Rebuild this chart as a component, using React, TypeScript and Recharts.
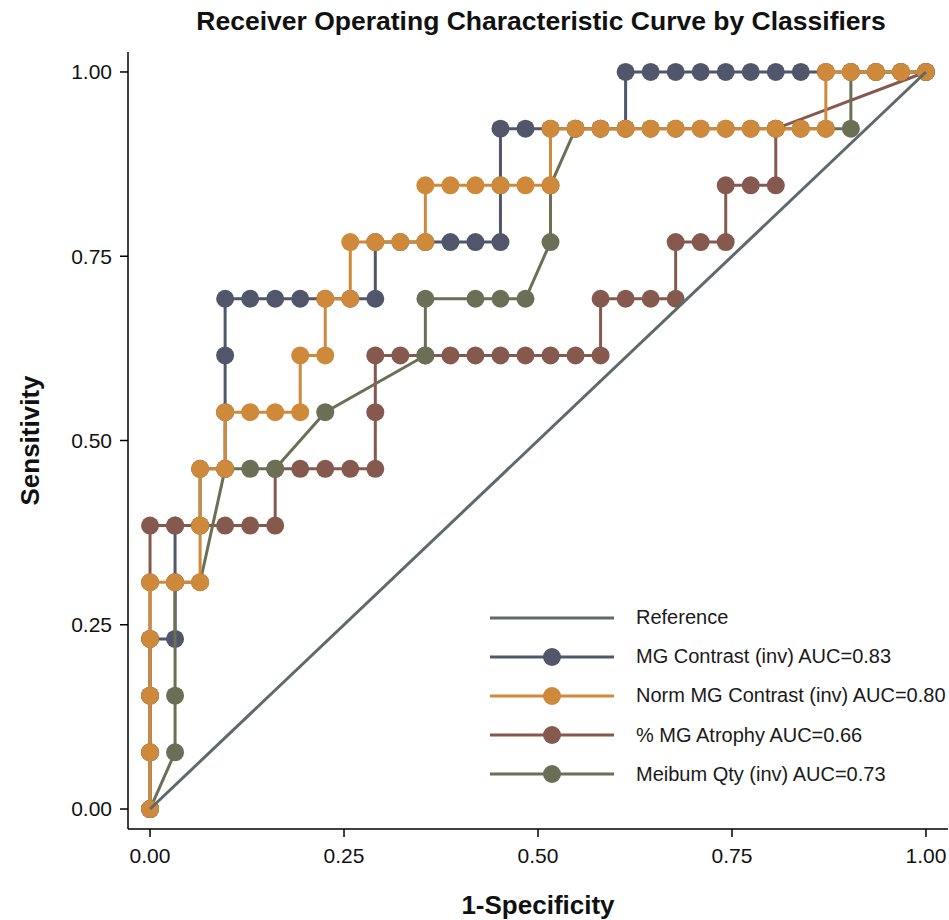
import React from "react";
import { ScatterChart, Scatter, XAxis, YAxis, Legend, Label } from "recharts";

// counts behind the empirical ROC steps
const NEG = 31;
const POS = 13;

const xTicks = [0, 0.25, 0.5, 0.75, 1];
const yTicks = [0, 0.25, 0.5, 0.75, 1];

// [false positives, true positives] at each cutoff
const mgContrast: [number, number][] = [
  [0, 0], [0, 1], [0, 2], [0, 3], [1, 3], [1, 4], [1, 5], [2, 5], [2, 6], [3, 6],
  [3, 7], [3, 8], [3, 9], [4, 9], [5, 9], [6, 9], [7, 9], [8, 9], [9, 9], [9, 10],
  [10, 10], [11, 10], [12, 10], [13, 10], [14, 10], [14, 11], [14, 12], [15, 12],
  [16, 12], [17, 12], [18, 12], [19, 12], [19, 13], [20, 13], [21, 13], [22, 13],
  [23, 13], [24, 13], [25, 13], [26, 13], [27, 13], [28, 13], [29, 13], [30, 13], [31, 13],
];

const normMgContrast: [number, number][] = [
  [0, 0], [0, 1], [0, 2], [0, 3], [0, 4], [1, 4], [2, 4], [2, 5], [2, 6], [3, 6],
  [3, 7], [4, 7], [5, 7], [6, 7], [6, 8], [7, 8], [7, 9], [8, 9], [8, 10], [9, 10],
  [10, 10], [11, 10], [11, 11], [12, 11], [13, 11], [14, 11], [15, 11], [16, 11],
  [16, 12], [17, 12], [18, 12], [19, 12], [20, 12], [21, 12], [22, 12], [23, 12],
  [24, 12], [25, 12], [26, 12], [27, 12], [27, 13], [28, 13], [29, 13], [30, 13], [31, 13],
];

const mgAtrophy: [number, number][] = [
  [0, 0], [0, 1], [0, 2], [0, 3], [0, 4], [0, 5], [1, 5], [2, 5], [3, 5], [4, 5],
  [5, 5], [5, 6], [6, 6], [7, 6], [8, 6], [9, 6], [9, 7], [9, 8], [10, 8], [11, 8],
  [12, 8], [13, 8], [14, 8], [15, 8], [16, 8], [17, 8], [18, 8], [18, 9], [19, 9],
  [20, 9], [21, 9], [21, 10], [22, 10], [23, 10], [23, 11], [24, 11], [25, 11],
  [25, 12], [31, 13],
];

const meibumQty: [number, number][] = [
  [0, 0], [1, 1], [1, 2], [1, 4], [2, 4], [3, 6], [4, 6], [5, 6], [7, 7], [11, 8],
  [11, 9], [13, 9], [14, 9], [15, 9], [16, 10], [16, 11], [17, 12], [18, 12], [19, 12],
  [20, 12], [21, 12], [22, 12], [23, 12], [24, 12], [25, 12], [26, 12], [27, 12],
  [28, 12], [28, 13], [29, 13], [30, 13], [31, 13],
];

const reference: [number, number][] = [[0, 0], [NEG, POS]];

const FONT = "'Liberation Sans', Arial, Helvetica, sans-serif";

const toRates = (pts: [number, number][]) =>
  pts.map(([fp, tp]) => ({ x: fp / NEG, y: tp / POS }));

const REF = { name: "Reference", color: "#5d6a6a" };
const MG = { name: "MG Contrast (inv) AUC=0.83", color: "#51566a", data: toRates(mgContrast) };
const NORM = { name: "Norm MG Contrast (inv) AUC=0.80", color: "#cf893b", data: toRates(normMgContrast) };
const ATR = { name: "% MG Atrophy AUC=0.66", color: "#86594f", data: toRates(mgAtrophy) };
const MEI = { name: "Meibum Qty (inv) AUC=0.73", color: "#6b6f55", data: toRates(meibumQty) };

// drawing order (last is on top)
const drawOrder = [MG, ATR, MEI, NORM];
const legendItems = [
  { ...REF, dot: false },
  { ...MG, dot: true },
  { ...NORM, dot: true },
  { ...ATR, dot: true },
  { ...MEI, dot: true },
];

const dot = (color: string) => (props: any) => (
  <circle cx={props.cx} cy={props.cy} r={9} fill={color} />
);

const renderLegend = () => (
  <div style={{ fontFamily: FONT, fontSize: 20, color: "#1a1a1a" }}>
    {legendItems.map((item) => (
      <div key={item.name} style={{ display: "flex", alignItems: "center", height: 39.2 }}>
        <svg width={124} height={20} style={{ flex: "none" }}>
          <line x1={0} y1={10} x2={124} y2={10} stroke={item.color} strokeWidth={3} />
          {item.dot && <circle cx={62} cy={10} r={9} fill={item.color} />}
        </svg>
        <span style={{ marginLeft: 22, whiteSpace: "nowrap" }}>{item.name}</span>
      </div>
    ))}
  </div>
);

const fmt = (v: number) => v.toFixed(2);
const tickStyle = { fontFamily: FONT, fontSize: 21, fill: "#111" };

export default function App() {
  return (
    <div style={{ position: "absolute", left: 0, top: 0, width: 949, height: 920, background: "#fff" }}>
      <svg width={949} height={50} style={{ position: "absolute", left: 0, top: 0 }}>
        <text x={541} y={30} textAnchor="middle" fontFamily={FONT} fontWeight="bold" fontSize={26.5} fill="#111">
          Receiver Operating Characteristic Curve by Classifiers
        </text>
      </svg>
      <ScatterChart width={949} height={920} margin={{ top: 52, right: 1, bottom: 0, left: 0 }}>
        <XAxis
          type="number"
          dataKey="x"
          domain={[-0.0284, 1.0284]}
          ticks={xTicks}
          interval={0}
          allowDataOverflow
          tickFormatter={fmt}
          height={91}
          tickSize={8}
          tickMargin={11}
          tick={tickStyle}
          axisLine={{ stroke: "#000", strokeWidth: 1.5 }}
          tickLine={{ stroke: "#000", strokeWidth: 1.5 }}
        >
          <Label
            content={(p: any) => (
              <text
                x={p.viewBox.x + p.viewBox.width / 2}
                y={p.viewBox.y + 85}
                textAnchor="middle"
                fontFamily={FONT}
                fontWeight="bold"
                fontSize={26}
                fill="#111"
              >
                1-Specificity
              </text>
            )}
          />
        </XAxis>
        <YAxis
          type="number"
          dataKey="y"
          domain={[-0.0271, 1.0271]}
          ticks={yTicks}
          interval={0}
          allowDataOverflow
          tickFormatter={fmt}
          width={128}
          tickSize={8}
          tickMargin={8}
          tick={tickStyle}
          axisLine={{ stroke: "#000", strokeWidth: 1.5 }}
          tickLine={{ stroke: "#000", strokeWidth: 1.5 }}
        >
          <Label
            content={(p: any) => {
              const cx = 39;
              const cy = p.viewBox.y + p.viewBox.height / 2;
              return (
                <text
                  x={cx}
                  y={cy}
                  transform={`rotate(-90, ${cx}, ${cy})`}
                  textAnchor="middle"
                  fontFamily={FONT}
                  fontWeight="bold"
                  fontSize={26}
                  fill="#111"
                >
                  Sensitivity
                </text>
              );
            }}
          />
        </YAxis>
        {drawOrder.map((s) => (
          <Scatter
            key={s.name}
            name={s.name}
            data={s.data}
            line={{ stroke: s.color, strokeWidth: 3 }}
            lineType="joint"
            shape={dot(s.color)}
            fill={s.color}
            isAnimationActive={false}
          />
        ))}
        <Scatter
          name={REF.name}
          data={toRates(reference)}
          line={{ stroke: REF.color, strokeWidth: 3 }}
          lineType="joint"
          shape={() => <g />}
          fill={REF.color}
          isAnimationActive={false}
        />
        <Legend
          layout="vertical"
          align="center"
          verticalAlign="middle"
          wrapperStyle={{ left: 490, top: 598, width: 440 }}
          content={renderLegend}
        />
      </ScatterChart>
    </div>
  );
}
